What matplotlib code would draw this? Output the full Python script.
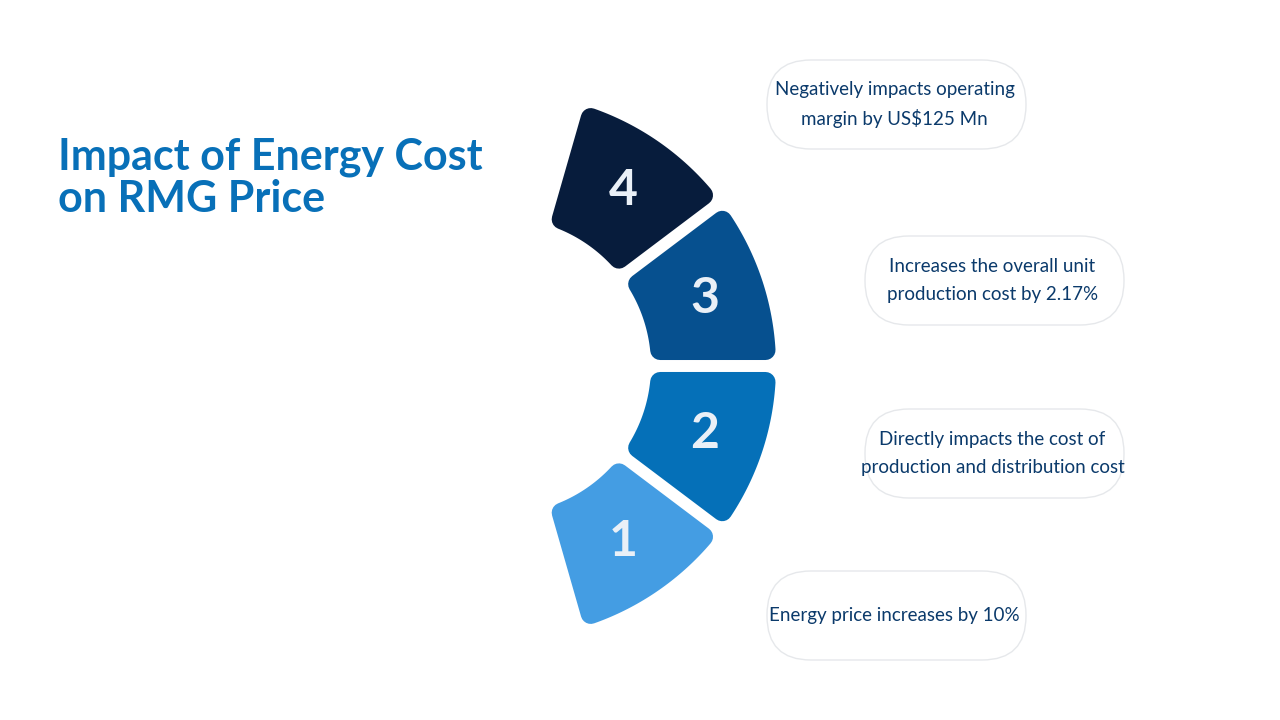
import numpy as np
import matplotlib
matplotlib.use("Agg")
import matplotlib.pyplot as plt
from matplotlib.patches import Polygon, FancyBboxPatch

title = "Impact of Energy Cost\non RMG Price"
step_labels = ["1", "2", "3", "4"]
step_colors = ["#449DE3", "#0570B8", "#06508F", "#071C3C"]
step_texts = ["Energy price increases by 10%",
              "Directly impacts the cost of\nproduction and distribution cost",
              "Increases the overall unit\nproduction cost by 2.17%",
              "Negatively impacts operating\nmargin by US$125 Mn"]
box_x = [723, 821, 821, 723]
box_y = [571, 409, 236, 60]

fig = plt.figure(figsize=(12.8, 7.2), dpi=100)
ax = fig.add_axes([0, 0, 1, 1])
ax.set_xlim(0, 1280); ax.set_ylim(720, 0); ax.axis("off")

ax.text(58, 178, title, fontsize=31, fontweight="bold", color="#0870B8",
        family="Lato", va="center", ha="left", linespacing=1.05)

cx, cy, Ri, Ro = 503, 366, 148, 273
span = 37.0
pad = 10
for i, (lab, col) in enumerate(zip(step_labels, step_colors)):
    a0 = -74 + i * span
    a1 = a0 + span
    ri, ro = Ri + pad, Ro - pad
    da_o = np.degrees((6 + pad) / ro); da_i = np.degrees((6 + pad) / ri)
    to = np.radians(np.linspace(a0 + da_o, a1 - da_o, 40))
    ti = np.radians(np.linspace(a1 - da_i, a0 + da_i, 40))
    xs = np.concatenate([cx + ro * np.cos(to), cx + ri * np.cos(ti)])
    ys = np.concatenate([cy - ro * np.sin(to), cy - ri * np.sin(ti)])
    ax.add_patch(Polygon(np.column_stack([xs, ys]), closed=True, facecolor=col,
                         edgecolor=col, linewidth=2 * pad * 0.72, joinstyle="round"))
    am = np.radians((a0 + a1) / 2)
    ax.text(cx + 213 * np.cos(am), cy - 213 * np.sin(am), lab, fontsize=36,
            fontweight="bold", family="Lato", color="#EAF0F7", ha="center", va="center")

    bx, by, bw, bh = box_x[i], box_y[i], 347, 89
    ax.add_patch(FancyBboxPatch((bx + 44, by), bw - 88, bh,
                                boxstyle="round,pad=0,rounding_size=44",
                                mutation_aspect=1, facecolor="white",
                                edgecolor="#E6E8EB", linewidth=1))
    ax.text(bx + bw / 2 - 2, by + bh / 2, step_texts[i], fontsize=13.5, family="Lato",
            color="#0B3A6B", ha="center", va="center", linespacing=1.75)

fig.savefig("out.png", dpi=100, facecolor="white")
